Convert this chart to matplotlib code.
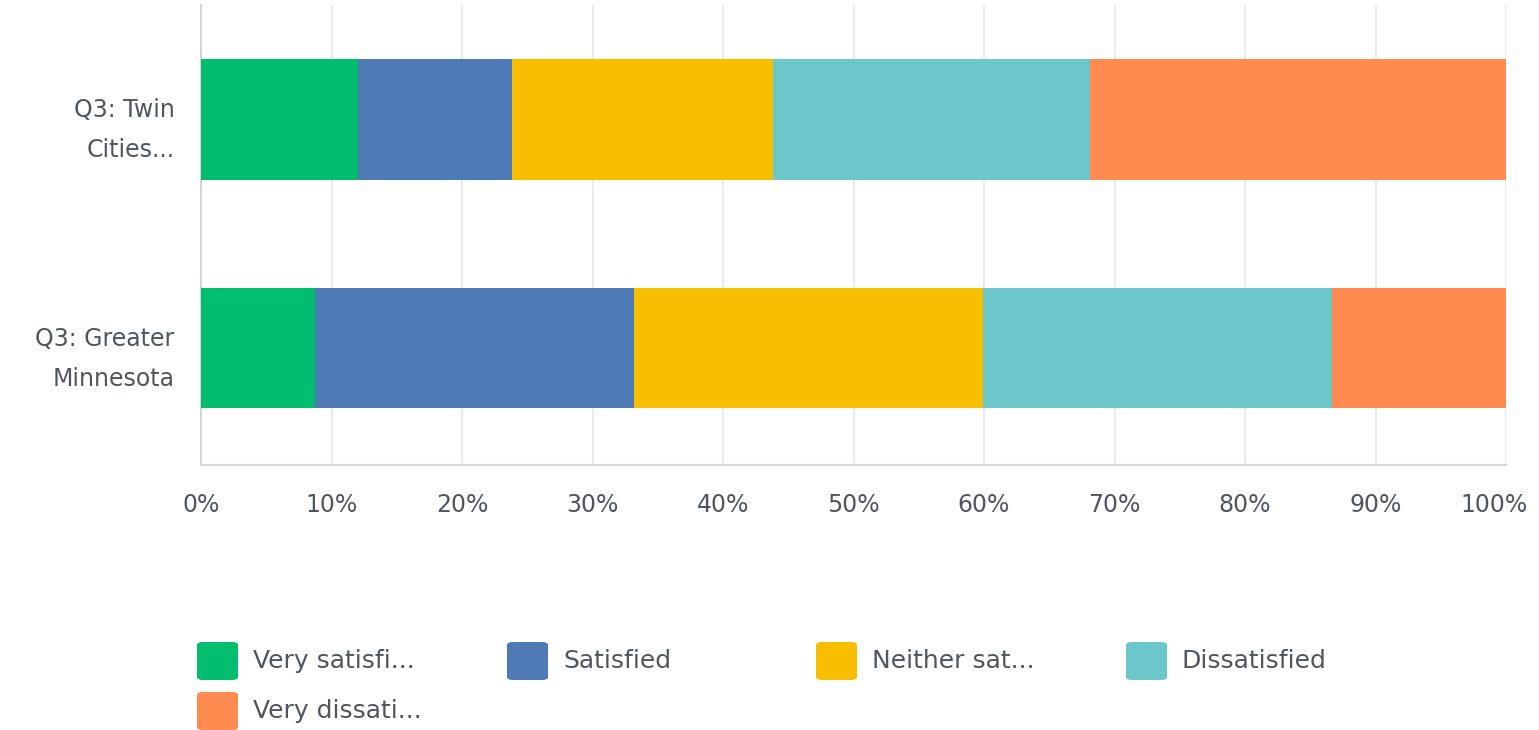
import matplotlib
matplotlib.use("Agg")
import matplotlib.pyplot as plt
import matplotlib.transforms as mtransforms
from matplotlib.patches import FancyBboxPatch
import numpy as np

categories = ["Q3: Twin\nCities...", "Q3: Greater\nMinnesota"]
series_names = ["Very satisfied", "Satisfied", "Neither satisfied nor dissatisfied",
                "Dissatisfied", "Very dissatisfied"]
legend_labels = ["Very satisfi...", "Satisfied", "Neither sat...", "Dissatisfied", "Very dissati..."]
very_satisfied = [12.0, 8.7]
satisfied = [11.8, 24.5]
neither = [20.0, 26.7]
dissatisfied = [24.3, 26.8]
very_dissatisfied = [31.9, 13.3]
colors = ["#00be6e", "#4e7ab5", "#f8be00", "#6cc7cb", "#ff8b50"]
xticks = list(range(0, 101, 10))

plt.rcParams['font.family'] = ['DejaVu Sans']
fig = plt.figure(figsize=(15.39, 7.30), dpi=100)
ax = fig.add_axes([201/1539, 1-465/730, (1506-201)/1539, (465-5)/730])

values = [very_satisfied, satisfied, neither, dissatisfied, very_dissatisfied]
y = np.arange(len(categories))
left = np.zeros(len(categories))
for vals, col, name in zip(values, colors, series_names):
    ax.barh(y, vals, left=left, height=0.525, color=col, label=name, zorder=3)
    left += np.array(vals)

ax.set_xlim(0, 100)
ax.set_ylim(1.51, -0.5)
ax.set_yticks(y)
ax.set_yticklabels(categories, fontsize=17, color="#505560", linespacing=1.85,
                   multialignment="right")
ax.set_xticks(xticks)
ax.set_xticklabels([f"{t}%" for t in xticks], fontsize=17, color="#505560")
ax.tick_params(axis="y", length=0, pad=19)
ax.tick_params(axis="x", length=0, pad=20)
# shift last tick label slightly left so it fits inside the figure
last = ax.get_xticklabels()[-1]
last.set_transform(last.get_transform() +
                   mtransforms.ScaledTranslation(-12/100, 0, fig.dpi_scale_trans))
ax.grid(axis="x", color="#e6e6e6", linewidth=1.2, zorder=0)
for s in ["top", "right"]:
    ax.spines[s].set_visible(False)
ax.spines["left"].set_color("#cccccc")
ax.spines["bottom"].set_color("#d9d9d9")
ax.spines["left"].set_linewidth(1.2)
ax.spines["bottom"].set_linewidth(1.5)

# legend
col_x = [197, 507, 816, 1126]
row_y = [661, 711]
W, H = 1539, 730
for i, (lab, col) in enumerate(zip(legend_labels, colors)):
    r, c = divmod(i, 4)
    x0 = col_x[c]
    yc = row_y[r]
    p = FancyBboxPatch((x0 / W, (H - yc - 19) / H), 41 / W, 38 / H,
                       boxstyle="round,pad=0,rounding_size=0.004",
                       transform=fig.transFigure, facecolor=col, edgecolor="none")
    fig.patches.append(p)
    fig.text((x0 + 56) / W, (H - yc) / H, lab, fontsize=18, color="#505560",
             va="center", ha="left")

fig.savefig("out.png", dpi=100)
